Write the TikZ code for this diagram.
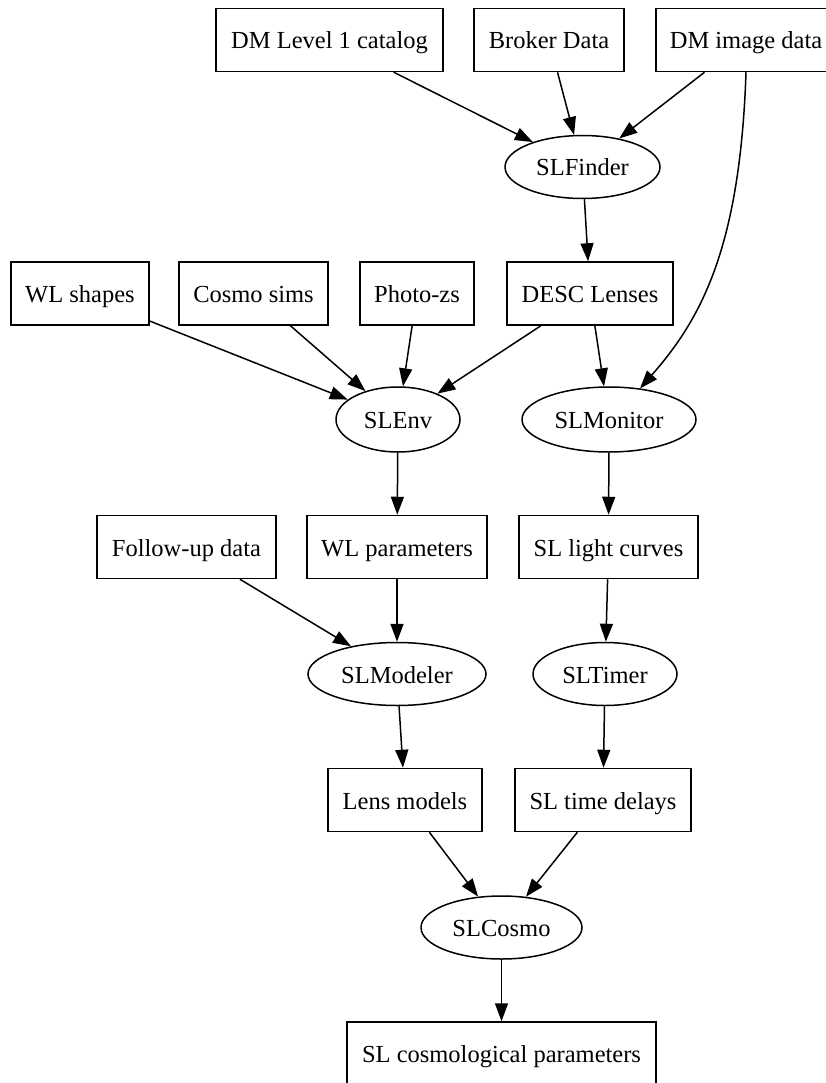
\documentclass[tikz,border=0pt]{standalone}
\usepackage{fontspec}
\setmainfont{Liberation Serif}
\usetikzlibrary{shapes.geometric,arrows.meta}
\begin{document}
\begin{tikzpicture}[x=1pt,y=-1pt,
  every node/.style={font=\fontsize{24.5}{29}\selectfont, line width=1.5pt, inner sep=0pt, text height=18pt, text depth=0pt},
  box/.style={draw, rectangle, minimum height=63pt},
  proc/.style={draw, ellipse, minimum height=63pt},
  edge/.style={line width=1.5pt, -{Triangle[length=18pt,width=13pt]}}]
\useasboundingbox (0,0) rectangle (826,1083);
\clip (0,0) rectangle (826,1083);
\fill[white] (0,0) rectangle (826,1083);
% row 1
\node[box, minimum width=227pt] (dml1) at (329.5,40) {DM Level 1 catalog};
\node[box, minimum width=150pt] (broker) at (549,40) {Broker Data};
\node[box, minimum width=180pt] (dmimg) at (746,40) {DM image data};
\node[proc, minimum width=155pt] (slfinder) at (582.5,167) {SLFinder};
% row 3
\node[box, minimum width=138pt] (wlshapes) at (80,293.5) {WL shapes};
\node[box, minimum width=149pt] (cosmo) at (253.5,293.5) {Cosmo sims};
\node[box, minimum width=114pt] (photoz) at (417,293.5) {Photo-zs};
\node[box, minimum width=166pt] (desc) at (590,293.5) {DESC Lenses};
\node[proc, minimum width=124pt, minimum height=65pt] (slenv) at (398,419.5) {SLEnv};
\node[proc, minimum width=174pt, minimum height=65pt] (slmon) at (609,419.5) {SLMonitor};
% row 5
\node[box, minimum width=179pt] (followup) at (186.5,547) {Follow-up data};
\node[box, minimum width=180pt] (wlparams) at (397,547) {WL parameters};
\node[box, minimum width=179pt] (slcurves) at (608.5,547) {SL light curves};
\node[proc, minimum width=178pt] (slmodeler) at (397,674) {SLModeler};
\node[proc, minimum width=144pt] (sltimer) at (605,674) {SLTimer};
% row 7
\node[box, minimum width=154pt] (lens) at (405,800) {Lens models};
\node[box, minimum width=176pt] (sltd) at (603,800) {SL time delays};
\node[proc, minimum width=161pt] (slcosmo) at (501.5,927.5) {SLCosmo};
\node[box, minimum width=309pt] (slcp) at (501.5,1053.5) {SL cosmological parameters};
% edges
\draw[edge] (dml1) -- (slfinder);
\draw[edge] (broker) -- (slfinder);
\draw[edge] (dmimg) -- (slfinder);
\draw[edge] (dmimg.south) .. controls (740,250) and (700,320) .. (slmon.45);
\draw[edge] (slfinder) -- (desc);
\draw[edge] (wlshapes) -- (slenv);
\draw[edge] (cosmo) -- (slenv);
\draw[edge] (photoz) -- (slenv);
\draw[edge] (desc) -- (slenv);
\draw[edge] (desc) -- (slmon);
\draw[edge] (slenv) -- (wlparams);
\draw[edge] (slmon) -- (slcurves);
\draw[edge] (followup) -- (slmodeler);
\draw[edge] (wlparams) -- (slmodeler);
\draw[edge] (slcurves) -- (sltimer);
\draw[edge] (slmodeler) -- (lens);
\draw[edge] (sltimer) -- (sltd);
\draw[edge] (lens) -- (slcosmo);
\draw[edge] (sltd) -- (slcosmo);
\draw[edge] (slcosmo) -- (slcp);
\end{tikzpicture}
\end{document}
